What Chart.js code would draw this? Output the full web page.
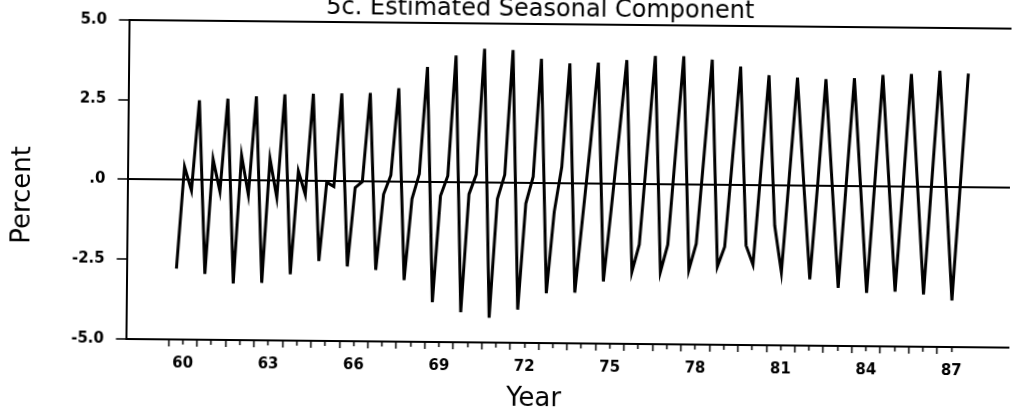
<!DOCTYPE html>
<html>
<head>
<meta charset="utf-8">
<script src="https://cdn.jsdelivr.net/npm/chart.js@4.4.0/dist/chart.umd.min.js"></script>
<style>
  html, body { margin: 0; padding: 0; background: #fff; overflow: hidden; }
  /* the scanned original is slightly tilted, so the whole canvas is turned a little */
  #wrap { position: absolute; left: 0; top: -12px; width: 1020px; height: 426px;
          transform: rotate(0.56deg); transform-origin: 128px 191px; }
</style>
</head>
<body>
<div id="wrap"><canvas id="chart" width="1020" height="426"></canvas></div>
<script>
// seasonal component, percent, one value per quarter
const years = [1960, 1961, 1962, 1963, 1964, 1965, 1966, 1967, 1968, 1969,
               1970, 1971, 1972, 1973, 1974, 1975, 1976, 1977, 1978, 1979,
               1980, 1981, 1982, 1983, 1984, 1985, 1986, 1987];
const q1 = [-2.78, -2.94, -3.23, -3.20, -2.92, -2.50, -2.66, -2.76, -3.07, -3.75,
            -4.06, -4.22, -3.96, -3.44, -3.41, -3.05, -2.74, -2.74, -2.66, -2.55,
            -1.88, -1.25, 0.15, 0.10, 0.05, 0.10, 0.10, 0.05];
const q2 = [0.42, 0.66, 0.79, 0.69, 0.31, -0.03, -0.19, -0.39, -0.52, -0.42,
            -0.36, -0.50, -0.63, -0.89, -1.05, -0.80, -1.88, -1.88, -1.84, -1.93,
            -2.48, -2.71, -2.92, -3.18, -3.33, -3.28, -3.36, -3.54];
const q3 = [-0.33, -0.35, -0.44, -0.52, -0.42, -0.16, 0.00, 0.21, 0.26, 0.21,
            0.26, 0.26, 0.21, 0.52, 1.25, 1.50, 1.05, 1.08, 1.00, 0.90,
            0.49, 0.34, 0.10, 0.10, 0.10, 0.10, 0.15, 0.00];
const q4 = [2.50, 2.56, 2.64, 2.71, 2.74, 2.76, 2.78, 2.94, 3.61, 3.98,
            4.20, 4.17, 3.90, 3.77, 3.80, 3.89, 4.03, 4.03, 3.93, 3.72,
            3.46, 3.39, 3.35, 3.39, 3.50, 3.54, 3.65, 3.57];

const xTickYears = [60, 63, 66, 69, 72, 75, 78, 81, 84, 87];
const yTickValues = [-5, -2.5, 0, 2.5, 5];
const yTickLabels = ['-5.0', '-2.5', '.0', '2.5', '5.0'];

const points = [];
years.forEach(function(yr, i) {
  [q1, q2, q3, q4].forEach(function(q, k) {
    points.push({x: yr + (k + 1) / 4, y: q[i]});
  });
});

const black = '#000';
const none = 'rgba(0,0,0,0)';
const tickFont = {family: 'DejaVu Sans', size: 15, weight: 'bold', lineHeight: 1};
const titleFont = {family: 'DejaVu Sans', size: 26, lineHeight: 1};

new Chart(document.getElementById('chart'), {
  type: 'line',
  data: {
    datasets: [{
      data: points,
      borderColor: black,
      borderWidth: 3,
      borderJoinStyle: 'miter',
      pointRadius: 0,
      tension: 0,
      fill: false
    }]
  },
  options: {
    responsive: false,
    animation: false,
    events: [],
    layout: {padding: {left: 0, right: 4, top: 0, bottom: 0}},
    plugins: {
      legend: {display: false},
      tooltip: {enabled: false},
      title: {
        display: true,
        text: '        5c. Estimated Seasonal Component',
        color: black,
        font: {family: 'DejaVu Sans', size: 24, weight: 'normal'},
        padding: {top: 3, bottom: 0}
      }
    },
    scales: {
      x: {
        type: 'linear',
        min: 1958.5,
        max: 1989.5,
        border: {display: true, color: black, width: 2},
        grid: {
          drawOnChartArea: false,
          drawTicks: true,
          tickLength: 7,
          tickWidth: 1.5,
          tickColor: function(c) {
            const v = c.tick.value;
            return (v >= 1960 && v <= 1987.5) ? black : none;
          },
          tickBorderDash: function(c) {
            return Number.isInteger(c.tick.value) ? [] : [4, 20];
          }
        },
        ticks: {
          stepSize: 0.5,
          autoSkip: false,
          maxRotation: 0,
          padding: 10,
          color: black,
          font: tickFont,
          callback: function(v) {
            const yr = v - 0.5;
            if (Number.isInteger(yr) && xTickYears.indexOf(yr - 1900) >= 0) {
              return String(yr - 1900);
            }
            return '';
          }
        },
        title: {
          display: true,
          text: 'Year        ',
          color: black,
          font: titleFont,
          padding: {top: 1.4, bottom: 5.6}
        }
      },
      y: {
        min: -5,
        max: 5,
        afterFit: function(scale) { scale.width = 127.5; },
        border: {display: true, color: black, width: 2},
        grid: {
          color: function(c) {
            const v = c.tick.value;
            return (v === 0 || v === 5) ? black : none;
          },
          lineWidth: 2,
          tickLength: 10,
          tickWidth: 1.5,
          tickColor: black
        },
        ticks: {
          stepSize: 2.5,
          padding: 12,
          color: black,
          font: tickFont,
          callback: function(v) {
            const i = yTickValues.indexOf(v);
            return i >= 0 ? yTickLabels[i] : '';
          }
        },
        title: {
          display: true,
          text: 'Percent    ',
          color: black,
          font: titleFont,
          padding: {top: 10.5, bottom: 0}
        }
      }
    }
  }
});
</script>
</body>
</html>
